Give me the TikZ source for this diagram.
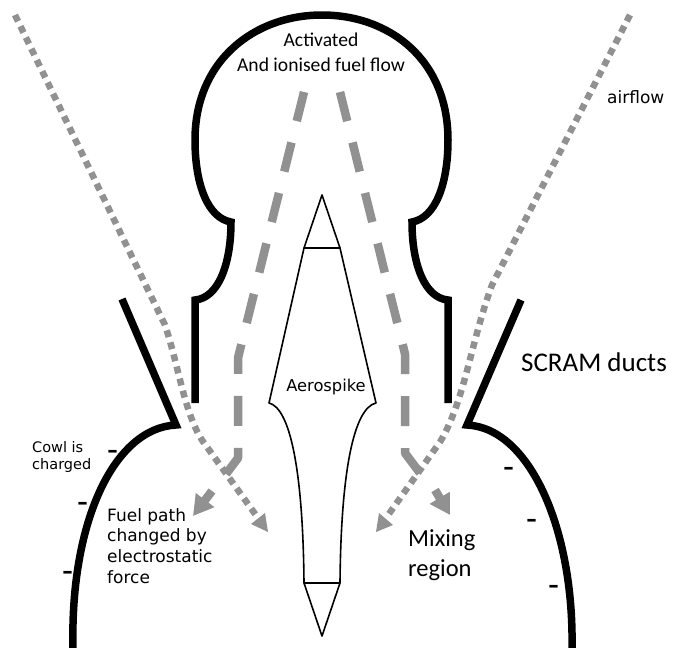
\documentclass[tikz,border=0pt]{standalone}
\usepackage{fontspec}
\setmainfont{Carlito}
\newfontfamily\vfont{DejaVu Sans}
\usepackage{xcolor}
\usetikzlibrary{arrows.meta}
\definecolor{flowgray}{HTML}{919191}
\tikzset{
  wall/.style={draw=black, line width=7.5pt, line join=miter},
  spike/.style={draw=black, line width=1.6pt, line join=round},
  fuel/.style={draw=flowgray, line width=8.5pt, line join=round, dash pattern=on 30pt off 22pt},
  air/.style={draw=flowgray, line width=6.5pt, dash pattern=on 7pt off 5.5pt},
  deflect/.style={draw=flowgray, line width=8.5pt, -{Triangle[length=20pt,width=22pt]}},
  airtip/.style={fill=flowgray},
  label/.style={inner sep=0pt, align=left, anchor=west},
  charge/.style={inner sep=0pt, font=\vfont\bfseries\fontsize{21}{21}\selectfont}
}
\begin{document}
\begin{tikzpicture}[x=1pt, y=-1pt]
\useasboundingbox (0,0) rectangle (681,648);
% fuel chamber
\draw[wall] (195,403) -- (195,300) .. controls (218,298) and (231,265) .. (231,222)
  .. controls (208,218) and (195,185) .. (195,140)
  .. controls (195,60) and (255,15) .. (322,15)
  .. controls (390,15) and (448,60) .. (448,140)
  .. controls (448,185) and (435,218) .. (412,222)
  .. controls (412,265) and (425,298) .. (448,300) -- (448,403);
% scram ducts and cowl
\draw[wall] (122,299) -- (176,425) .. controls (115,428) and (70,520) .. (73,648);
\draw[wall] (521,300) -- (467,425) .. controls (530,428) and (574,530) .. (572,648);
% aerospike
\draw[spike] (322,195) -- (304,248) -- (269,403)
  .. controls (290,408) and (303,470) .. (304,583) -- (322,636) -- (340,583)
  .. controls (341,470) and (354,408) .. (376,403) -- (340,248) -- cycle;
\draw[spike] (304,248) -- (340,248);
\draw[spike] (304,583) -- (340,583);
% fuel flow
\draw[fuel] (304,92) -- (238,358) -- (238,458) -- (226,474);
\draw[fuel] (340,92) -- (405,354) -- (405,453) -- (420,473);
\draw[deflect] (212,491) -- (193,516);
\draw[deflect] (435,490) -- (450,515);
% airflow
\draw[air] (15,15) -- (165,325) .. controls (180,370) and (185,420) .. (207,447) -- (258,518);
\draw[air] (630,15) -- (492,285) .. controls (470,345) and (465,400) .. (440,442) -- (386,518);
\fill[airtip] (268,532) -- (251,524) -- (265,513) -- cycle;
\fill[airtip] (376,532) -- (393,525) -- (379,513) -- cycle;
% labels
\node[inner sep=0pt, font=\fontsize{19.6}{24}\selectfont, align=center] (fuelflow) at (321,52) {Activated\\[1pt]And ionised fuel flow};
\node[label, font=\fontsize{27}{30}\selectfont] (ducts) at (521,362) {SCRAM ducts};
\node[label, font=\fontsize{24.5}{30}\selectfont] (mixing) at (408,555) {Mixing\\region};
\node[label, font=\vfont\fontsize{17}{20.7}\selectfont] (fuelpath) at (107,546) {Fuel path\\changed by\\electrostatic\\force};
\node[label, font=\vfont\fontsize{14.5}{17.5}\selectfont] (cowl) at (32,457) {Cowl is\\charged};
\node[inner sep=0pt, font=\vfont\fontsize{16.3}{17}\selectfont] (aero) at (326,387) {Aerospike};
\node[label, font=\vfont\fontsize{17}{17}\selectfont] (airflow) at (607,97) {airflow};
% charges
\node[charge] (c1) at (112.5,454) {–};
\node[charge] (c2) at (82.5,506) {–};
\node[charge] (c3) at (67.5,575) {–};
\node[charge] (c4) at (508.5,471) {–};
\node[charge] (c5) at (531.5,523) {–};
\node[charge] (c6) at (553.5,589) {–};
\end{tikzpicture}
\end{document}
